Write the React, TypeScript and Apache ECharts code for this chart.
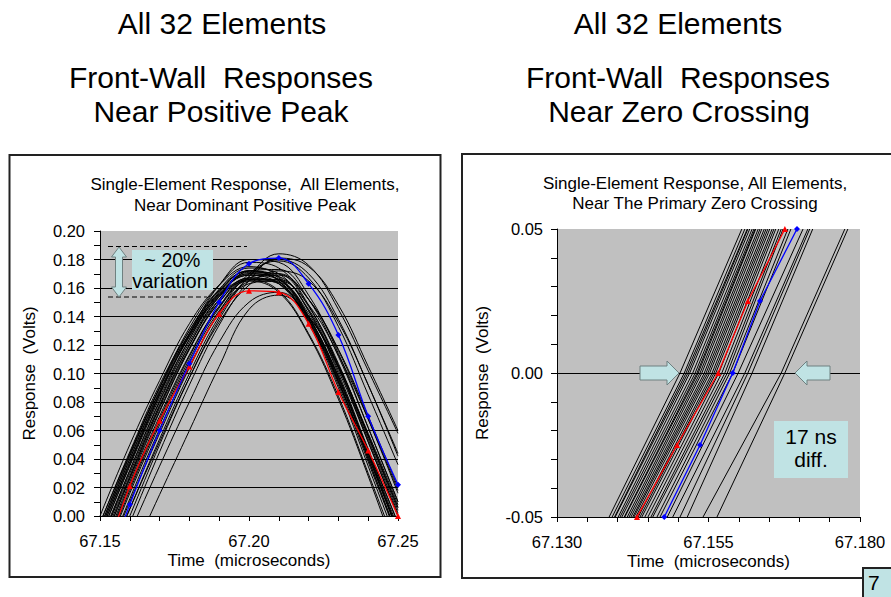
import React, { useEffect, useRef } from "react";
import * as echarts from "echarts";

// ---------- Left chart: near dominant positive peak ----------
const leftTimes = [67.15, 67.16, 67.17, 67.18, 67.19, 67.2, 67.21, 67.22, 67.23, 67.24, 67.25];

const leftBlack: number[][] = [
  [-0.005, 0.045, 0.092, 0.13, 0.158, 0.172, 0.165, 0.135, 0.09, 0.035, -0.02],
  [0.0, 0.05, 0.095, 0.135, 0.162, 0.175, 0.168, 0.14, 0.095, 0.04, -0.015],
  [-0.01, 0.04, 0.088, 0.128, 0.157, 0.17, 0.166, 0.138, 0.094, 0.042, -0.01],
  [-0.008, 0.042, 0.09, 0.132, 0.162, 0.178, 0.174, 0.148, 0.105, 0.052, 0.0],
  [-0.015, 0.035, 0.083, 0.124, 0.155, 0.169, 0.166, 0.14, 0.098, 0.045, -0.008],
  [-0.02, 0.03, 0.078, 0.12, 0.152, 0.167, 0.164, 0.139, 0.098, 0.046, -0.005],
  [-0.012, 0.038, 0.086, 0.127, 0.159, 0.174, 0.17, 0.144, 0.1, 0.047, -0.005],
  [-0.018, 0.032, 0.08, 0.122, 0.154, 0.17, 0.168, 0.144, 0.104, 0.054, 0.002],
  [-0.025, 0.027, 0.076, 0.118, 0.15, 0.166, 0.163, 0.138, 0.096, 0.044, -0.01],
  [-0.022, 0.028, 0.077, 0.12, 0.154, 0.171, 0.17, 0.147, 0.107, 0.056, 0.004],
  [-0.005, 0.044, 0.09, 0.128, 0.155, 0.166, 0.158, 0.128, 0.084, 0.03, -0.025],
  [-0.01, 0.04, 0.087, 0.126, 0.154, 0.165, 0.157, 0.127, 0.082, 0.028, -0.03],
  [-0.03, 0.022, 0.07, 0.113, 0.147, 0.165, 0.164, 0.142, 0.102, 0.052, 0.0],
  [-0.028, 0.024, 0.073, 0.117, 0.152, 0.172, 0.173, 0.152, 0.112, 0.062, 0.01],
  [-0.015, 0.036, 0.085, 0.128, 0.162, 0.18, 0.178, 0.155, 0.114, 0.062, 0.01],
  [-0.035, 0.018, 0.066, 0.11, 0.146, 0.167, 0.17, 0.152, 0.116, 0.068, 0.016],
  [-0.05, 0.0, 0.05, 0.097, 0.138, 0.168, 0.184, 0.176, 0.145, 0.102, 0.058],
  [-0.055, -0.005, 0.045, 0.092, 0.134, 0.165, 0.181, 0.175, 0.148, 0.105, 0.06],
  [-0.045, 0.005, 0.054, 0.1, 0.14, 0.168, 0.18, 0.17, 0.138, 0.092, 0.044],
  [-0.04, 0.01, 0.058, 0.104, 0.143, 0.17, 0.179, 0.167, 0.133, 0.085, 0.036],
  [-0.07, -0.03, 0.015, 0.06, 0.105, 0.145, 0.155, 0.14, 0.105, 0.058, 0.008],
  [-0.06, -0.012, 0.035, 0.08, 0.122, 0.15, 0.157, 0.14, 0.104, 0.056, 0.006],
  [-0.02, 0.032, 0.081, 0.124, 0.157, 0.172, 0.167, 0.14, 0.097, 0.044, -0.012],
  [-0.008, 0.043, 0.09, 0.13, 0.159, 0.172, 0.165, 0.136, 0.092, 0.038, -0.016],
  [-0.03, 0.02, 0.068, 0.112, 0.147, 0.166, 0.166, 0.145, 0.106, 0.057, 0.006],
  [-0.012, 0.037, 0.085, 0.126, 0.156, 0.169, 0.163, 0.136, 0.094, 0.042, -0.012],
  [-0.036, 0.016, 0.064, 0.108, 0.144, 0.165, 0.169, 0.152, 0.117, 0.07, 0.02],
  [-0.025, 0.026, 0.074, 0.117, 0.15, 0.167, 0.163, 0.137, 0.094, 0.04, -0.015],
  [-0.045, 0.005, 0.052, 0.097, 0.136, 0.162, 0.172, 0.165, 0.136, 0.092, 0.042],
  [-0.04, 0.012, 0.061, 0.105, 0.142, 0.163, 0.165, 0.148, 0.113, 0.068, 0.018],
];
const leftRed = [-0.04, 0.021, 0.067, 0.105, 0.142, 0.158, 0.157, 0.135, 0.087, 0.046, 0.0];
const leftBlue = [-0.05, 0.008, 0.06, 0.107, 0.15, 0.177, 0.181, 0.163, 0.127, 0.07, 0.022];

// ---------- Right chart: near primary zero crossing ----------
// times (microseconds) at which each trace crosses these voltage levels
const rightLevels = [-0.05, 0, 0.05];
const rightBlack: number[][] = [
  [67.1386, 67.1503, 67.1605],
  [67.1391, 67.151, 67.161],
  [67.1396, 67.1516, 67.1615],
  [67.1401, 67.1519, 67.1618],
  [67.1404, 67.1524, 67.1622],
  [67.1407, 67.1528, 67.1625],
  [67.1412, 67.1533, 67.1628],
  [67.1416, 67.1536, 67.1632],
  [67.1419, 67.1539, 67.1635],
  [67.1422, 67.1543, 67.1638],
  [67.1425, 67.1546, 67.1642],
  [67.1427, 67.1549, 67.1645],
  [67.143, 67.1552, 67.1648],
  [67.1434, 67.1556, 67.1651],
  [67.1437, 67.1559, 67.1655],
  [67.144, 67.1562, 67.1658],
  [67.1445, 67.1567, 67.1661],
  [67.145, 67.1572, 67.1666],
  [67.1455, 67.1577, 67.167],
  [67.1458, 67.1581, 67.1673],
  [67.1465, 67.1585, 67.1681],
  [67.1482, 67.1599, 67.1706],
  [67.1491, 67.161, 67.1714],
  [67.1515, 67.1622, 67.1722],
  [67.1541, 67.167, 67.1775],
  [67.1564, 67.1676, 67.178],
  [67.147, 67.159, 67.1686],
  [67.1503, 67.1615, 67.1717],
  [67.1395, 67.1513, 67.1614],
  [67.1411, 67.1531, 67.1627],
];
const rightColorLevels = [-0.05, -0.025, 0, 0.025, 0.05];
const rightRed = [67.1432, 67.1498, 67.1566, 67.1615, 67.1676];
const rightBlue = [67.1477, 67.1536, 67.159, 67.1635, 67.1696];

// ---------- Text ----------
const leftTitles = ["All 32 Elements", "Front-Wall  Responses", "Near Positive Peak"];
const rightTitles = ["All 32 Elements", "Front-Wall  Responses", "Near Zero Crossing"];
const leftSub = ["Single-Element Response,  All Elements,", "Near Dominant Positive Peak"];
const rightSub = ["Single-Element Response, All Elements,", "Near The Primary Zero Crossing"];
const yName = "Response  (Volts)";
const xName = "Time  (microseconds)";

const FONT = "'Liberation Sans', Arial, Helvetica, sans-serif";
const BOX_FILL = "#c0e3e4";
const PLOT_BG = "#c0c0c0";

function txt(text: string, x: number, y: number, size: number, align = "center") {
  return {
    type: "text",
    x,
    y,
    z: 60,
    silent: true,
    style: { text, fontSize: size, fontFamily: FONT, fill: "#000", align, verticalAlign: "middle" },
  };
}

export default function App() {
  const ref = useRef<HTMLDivElement>(null);
  useEffect(() => {
    if (!ref.current) return;
    const chart = echarts.init(ref.current, undefined, { renderer: "svg" });

    const axisCommon = {
      type: "value",
      axisLine: { show: true, onZero: false, lineStyle: { color: "#000", width: 1 } },
      axisTick: { show: true, inside: false, length: 5, lineStyle: { color: "#000" } },
      nameLocation: "middle",
      nameTextStyle: { fontSize: 17, fontFamily: FONT, color: "#000" },
    };
    const labelCommon = { fontSize: 16.5, fontFamily: FONT, color: "#000" };

    const series: any[] = [];
    leftBlack.forEach((vals, i) => {
      series.push({
        type: "line",
        name: "L" + i,
        xAxisIndex: 0,
        yAxisIndex: 0,
        data: leftTimes.map((t, j) => [t, vals[j]]),
        smooth: 0.4,
        showSymbol: false,
        symbol: "none",
        lineStyle: { color: "#000", width: 1 },
        silent: true,
        clip: true,
        z: 2,
      });
    });
    series.push({
      type: "line",
      name: "Lred",
      xAxisIndex: 0,
      yAxisIndex: 0,
      data: leftTimes.map((t, j) => [t, leftRed[j]]),
      smooth: 0.4,
      symbol: "triangle",
      symbolSize: 6,
      itemStyle: { color: "#ff0000" },
      lineStyle: { color: "#ff0000", width: 1.3 },
      silent: true,
      clip: true,
      z: 4,
    });
    series.push({
      type: "line",
      name: "Lblue",
      xAxisIndex: 0,
      yAxisIndex: 0,
      data: leftTimes.map((t, j) => [t, leftBlue[j]]),
      smooth: 0.4,
      symbol: "diamond",
      symbolSize: 6,
      itemStyle: { color: "#0000ff" },
      lineStyle: { color: "#0000ff", width: 1.3 },
      silent: true,
      clip: true,
      z: 4,
    });

    rightBlack.forEach((ts, i) => {
      series.push({
        type: "line",
        name: "R" + i,
        xAxisIndex: 1,
        yAxisIndex: 1,
        data: ts.map((t, j) => [t, rightLevels[j]]),
        showSymbol: false,
        symbol: "none",
        lineStyle: { color: "#000", width: 1 },
        silent: true,
        clip: true,
        z: 2,
      });
    });
    series.push({
      type: "line",
      name: "Rred",
      xAxisIndex: 1,
      yAxisIndex: 1,
      data: rightRed.map((t, j) => [t, rightColorLevels[j]]),
      symbol: "triangle",
      symbolSize: 6,
      itemStyle: { color: "#ff0000" },
      lineStyle: { color: "#ff0000", width: 1.3 },
      silent: true,
      clip: true,
      z: 4,
      markLine: {
        silent: true,
        symbol: "none",
        label: { show: false },
        lineStyle: { color: "#000", type: "solid", width: 1 },
        data: [{ yAxis: 0 }],
        z: 1,
      },
    });
    series.push({
      type: "line",
      name: "Rblue",
      xAxisIndex: 1,
      yAxisIndex: 1,
      data: rightBlue.map((t, j) => [t, rightColorLevels[j]]),
      symbol: "diamond",
      symbolSize: 6,
      itemStyle: { color: "#0000ff" },
      lineStyle: { color: "#0000ff", width: 1.3 },
      silent: true,
      clip: true,
      z: 4,
    });

    const graphic: any[] = [
      // chart frames
      {
        type: "rect",
        z: 0,
        silent: true,
        shape: { x: 9.5, y: 155, width: 431, height: 422 },
        style: { fill: "none", stroke: "#222", lineWidth: 2 },
      },
      {
        type: "rect",
        z: 0,
        silent: true,
        shape: { x: 462, y: 154, width: 460, height: 424 },
        style: { fill: "none", stroke: "#222", lineWidth: 2 },
      },
      // big titles
      txt(leftTitles[0], 222, 23.5, 30),
      txt(leftTitles[1], 221, 77.5, 30),
      txt(leftTitles[2], 221, 111, 30),
      txt(rightTitles[0], 678, 23.5, 30),
      txt(rightTitles[1], 678, 77.5, 30),
      txt(rightTitles[2], 679, 111, 30),
      // chart subtitles
      txt(leftSub[0], 245, 184.5, 17),
      txt(leftSub[1], 245, 205.5, 17),
      txt(rightSub[0], 695, 183, 17),
      txt(rightSub[1], 695, 203, 17),
      // left annotation: dashed range lines
      {
        type: "line",
        z: 60,
        silent: true,
        shape: { x1: 108, y1: 246.5, x2: 247, y2: 246.5 },
        style: { stroke: "#000", lineWidth: 1.2, lineDash: [5, 3] },
      },
      {
        type: "line",
        z: 60,
        silent: true,
        shape: { x1: 108, y1: 297, x2: 207, y2: 297 },
        style: { stroke: "#000", lineWidth: 1.2, lineDash: [5, 3] },
      },
      {
        type: "polygon",
        z: 61,
        silent: true,
        shape: {
          points: [
            [119, 247], [126.5, 257], [122.5, 257], [122.5, 287], [126.5, 287],
            [119, 297], [111.5, 287], [115.5, 287], [115.5, 257], [111.5, 257],
          ],
        },
        style: { fill: BOX_FILL, stroke: "#6f8080", lineWidth: 1 },
      },
      {
        type: "rect",
        z: 60,
        silent: true,
        shape: { x: 132, y: 250, width: 81, height: 40 },
        style: { fill: BOX_FILL },
      },
      txt("~ 20%", 172.5, 260, 19.5),
      txt("variation", 170, 280.5, 20),
      // right annotation: arrows at zero crossing
      {
        type: "polygon",
        z: 61,
        silent: true,
        shape: {
          points: [[640, 366], [667, 366], [667, 361], [679, 373], [667, 385], [667, 380], [640, 380]],
        },
        style: { fill: BOX_FILL, stroke: "#6f8080", lineWidth: 1 },
      },
      {
        type: "polygon",
        z: 61,
        silent: true,
        shape: {
          points: [[830, 366], [807, 366], [807, 361], [795, 373], [807, 385], [807, 380], [830, 380]],
        },
        style: { fill: BOX_FILL, stroke: "#6f8080", lineWidth: 1 },
      },
      {
        type: "rect",
        z: 60,
        silent: true,
        shape: { x: 774, y: 421, width: 74, height: 57 },
        style: { fill: BOX_FILL },
      },
      txt("17 ns", 811, 436, 21),
      txt("diff.", 811, 459, 21),
      // slide number box
      {
        type: "rect",
        z: 62,
        silent: true,
        shape: { x: 863, y: 568, width: 40, height: 40 },
        style: { fill: BOX_FILL, stroke: "#222", lineWidth: 2 },
      },
      { ...txt("7", 868, 582, 21, "left"), z: 63 },
    ];

    const option: any = {
      animation: false,
      textStyle: { fontFamily: FONT },
      grid: [
        { left: 100, top: 231, width: 298, height: 285, show: true, backgroundColor: PLOT_BG, borderWidth: 0 },
        { left: 557, top: 229, width: 303, height: 288, show: true, backgroundColor: PLOT_BG, borderWidth: 0 },
      ],
      xAxis: [
        {
          ...axisCommon,
          gridIndex: 0,
          min: 67.15,
          max: 67.25,
          interval: 0.05,
          minorTick: { show: true, splitNumber: 5, length: 5, lineStyle: { color: "#000" } },
          splitLine: { show: false },
          axisLabel: { ...labelCommon, margin: 16, formatter: (v: number) => v.toFixed(2) },
          name: xName,
          nameGap: 36,
        },
        {
          ...axisCommon,
          gridIndex: 1,
          min: 67.13,
          max: 67.18,
          interval: 0.005,
          splitLine: { show: false },
          axisLabel: {
            ...labelCommon,
            margin: 16,
            formatter: (v: number) => {
              const k = Math.round(v * 1000) - 67130;
              return k % 25 === 0 ? v.toFixed(3) : "";
            },
          },
          name: xName,
          nameGap: 36,
        },
      ],
      yAxis: [
        {
          ...axisCommon,
          gridIndex: 0,
          min: 0,
          max: 0.2,
          interval: 0.02,
          axisTick: { show: true, inside: false, length: 6, lineStyle: { color: "#000" } },
          minorTick: { show: true, splitNumber: 2, length: 6, lineStyle: { color: "#000" } },
          splitLine: { show: true, showMinLine: false, showMaxLine: false, lineStyle: { color: "#000", width: 1 } },
          axisLabel: { ...labelCommon, margin: 15, formatter: (v: number) => v.toFixed(2) },
          name: yName,
          nameGap: 62,
        },
        {
          ...axisCommon,
          gridIndex: 1,
          min: -0.05,
          max: 0.05,
          interval: 0.01,
          axisTick: { show: true, inside: false, length: 6, lineStyle: { color: "#000" } },
          splitLine: { show: false },
          axisLabel: {
            ...labelCommon,
            margin: 14,
            formatter: (v: number) => {
              const k = Math.round(v * 100);
              if (k % 5 !== 0) return "";
              return k === 0 ? "0.00" : v.toFixed(2);
            },
          },
          name: yName,
          nameGap: 66,
        },
      ],
      series,
      graphic,
    };

    chart.setOption(option);
    return () => chart.dispose();
  }, []);

  return (
    <div
      ref={ref}
      style={{ position: "absolute", left: 0, top: 0, width: 891, height: 597, background: "#fff" }}
    />
  );
}
